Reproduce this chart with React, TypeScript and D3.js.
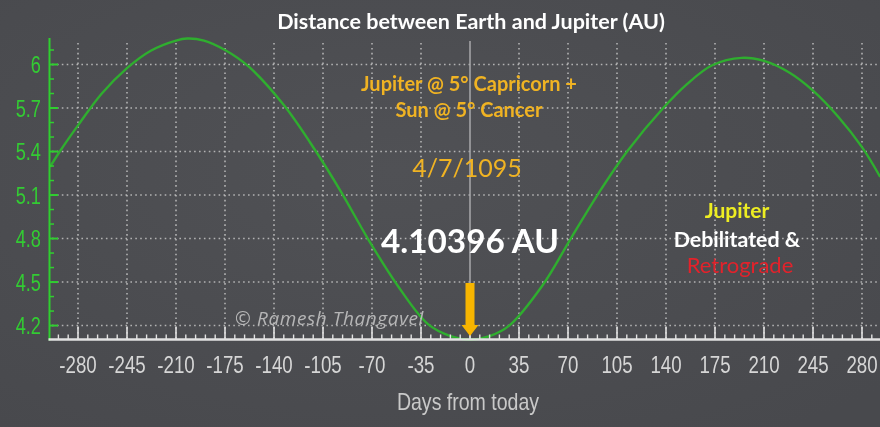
import React from 'react';
import * as d3 from 'd3';

// ---- data ----
const days = [-300, -293, -280, -263, -245, -228, -210, -202, -190, -175, -158, -133, -110, -92, -73, -52, -30, -14, 0, 14, 28, 52, 72, 91, 113, 138, 155, 173, 194, 210, 228, 245, 263, 280, 293];
const distanceAU = [5.294, 5.4, 5.58, 5.8, 5.975, 6.095, 6.165, 6.179, 6.165, 6.1, 5.985, 5.72, 5.4, 5.12, 4.8, 4.48, 4.21, 4.128, 4.104, 4.128, 4.2, 4.48, 4.8, 5.1, 5.41, 5.7, 5.865, 5.995, 6.046, 6.025, 5.945, 5.82, 5.64, 5.43, 5.225];
const xTickValues = [-280, -245, -210, -175, -140, -105, -70, -35, 0, 35, 70, 105, 140, 175, 210, 245, 280];
const yTickValues = [4.2, 4.5, 4.8, 5.1, 5.4, 5.7, 6];
const yTickLabels = ['4.2', '4.5', '4.8', '5.1', '5.4', '5.7', '6'];
const minDistance = 4.10396;

const titleText = 'Distance between Earth and Jupiter (AU)';
const noteLines = ['Jupiter @ 5° Capricorn +', 'Sun @ 5° Cancer'];
const dateText = '4/7/1095';
const valueText = '4.10396 AU';
const sideLines = ['Jupiter', 'Debilitated &', 'Retrograde'];
const watermarkText = '© Ramesh Thangavel';
const xAxisTitle = 'Days from today';

const W = 880;
const H = 427;

export default function App() {
  const x = d3.scaleLinear().domain([-300, 300]).range([50, 890]);
  const y = d3.scaleLinear().domain([minDistance, 6]).range([339.5, 64.5]);

  const line = d3
    .line<number>()
    .x((_, i) => x(days[i]))
    .y((d) => y(d))
    .curve(d3.curveCatmullRom.alpha(0.5));

  const minorY = d3.range(42, 62).map((v) => v / 10).filter((v) => Math.abs((v * 10) % 3) > 0.01);
  const minorX = d3.range(-294, 295, 7).filter((v) => v % 35 !== 0);

  const sans = "'Liberation Sans', Arial, sans-serif";
  const cal = "Lato, 'Open Sans', sans-serif";
  const axisBottom = y(minDistance);
  const x0 = x(0);

  return (
    <svg width={W} height={H} style={{ position: 'fixed', left: 0, top: 0, display: 'block' }}>
      <defs>
        <radialGradient id="bg" cx="45%" cy="40%" r="75%">
          <stop offset="0%" stopColor="#505155" />
          <stop offset="100%" stopColor="#48494d" />
        </radialGradient>
      </defs>
      <rect x={0} y={0} width={W} height={H} fill="url(#bg)" />

      {/* horizontal grid */}
      {yTickValues.map((v) => (
        <line key={'hg' + v} x1={52} x2={W} y1={y(v)} y2={y(v)} stroke="#c4c4c4" strokeWidth={1.6} strokeDasharray="1.6 3.3" opacity={0.85} />
      ))}
      {/* vertical grid */}
      {xTickValues.filter((v) => v !== 0).map((v) => (
        <line key={'vg' + v} x1={x(v)} x2={x(v)} y1={43} y2={axisBottom} stroke="#c4c4c4" strokeWidth={1.6} strokeDasharray="1.6 3.3" opacity={0.85} />
      ))}
      {/* zero line */}
      <line x1={x0} x2={x0} y1={41} y2={axisBottom} stroke="#a9a9ab" strokeWidth={1.5} />

      {/* curve */}
      <path d={line(distanceAU) || ''} fill="none" stroke="#2fae2f" strokeWidth={2.4} />

      {/* y axis */}
      <line x1={49.5} x2={49.5} y1={38} y2={axisBottom + 1} stroke="#2fcf2f" strokeWidth={2} />
      {yTickValues.map((v) => (
        <line key={'yt' + v} x1={49.5} x2={58} y1={y(v)} y2={y(v)} stroke="#2fcf2f" strokeWidth={2} />
      ))}
      {minorY.map((v) => (
        <line key={'ym' + v} x1={49.5} x2={54} y1={y(v)} y2={y(v)} stroke="#2fcf2f" strokeWidth={1.5} />
      ))}
      {yTickValues.map((v, i) => (
        <g key={'yl' + v} transform={`translate(41,${y(v)}) scale(0.76,1)`}>
          <text x={0} y={0} dy="0.36em" textAnchor="end" fill="#33cc33" fontFamily={sans} fontSize={24}>
            {yTickLabels[i]}
          </text>
        </g>
      ))}

      {/* x axis */}
      <line x1={48.5} x2={W} y1={axisBottom} y2={axisBottom} stroke="#e2e2e2" strokeWidth={2.5} />
      {xTickValues.map((v) => (
        <line key={'xt' + v} x1={x(v)} x2={x(v)} y1={axisBottom} y2={axisBottom - 13} stroke="#e2e2e2" strokeWidth={1.6} />
      ))}
      {minorX.map((v) => (
        <line key={'xm' + v} x1={x(v)} x2={x(v)} y1={axisBottom} y2={axisBottom - 5} stroke="#e2e2e2" strokeWidth={1.4} />
      ))}
      {xTickValues.map((v) => (
        <g key={'xl' + v} transform={`translate(${x(v)},372.5) scale(0.78,1)`}>
          <text x={0} y={0} textAnchor="middle" fill="#d6d6d6" fontFamily={sans} fontSize={24}>
            {v < 0 ? '-' + Math.abs(v) : String(v)}
          </text>
        </g>
      ))}
      <g transform={`translate(${x0 - 2},410) scale(0.85,1)`}>
        <text x={0} y={0} textAnchor="middle" fill="#c9c9c9" fontFamily={sans} fontSize={23}>
          {xAxisTitle}
        </text>
      </g>

      {/* title */}
      <text x={471} y={29} textAnchor="middle" fill="#ffffff" fontFamily={cal} fontWeight="bold" fontSize={21.5}>
        {titleText}
      </text>

      {/* annotations */}
      {noteLines.map((t, i) => (
        <text key={'n' + i} x={469} y={91 + i * 26} textAnchor="middle" fill="#f0b323" fontFamily={cal} fontWeight="bold" fontSize={20}>
          {t}
        </text>
      ))}
      <text x={467} y={177} textAnchor="middle" fill="#f0b323" fontFamily={cal} fontSize={25}>
        {dateText}
      </text>
      <text x={470} y={253} textAnchor="middle" fill="#ffffff" fontFamily={cal} fontWeight="bold" fontSize={33.3}>
        {valueText}
      </text>

      {/* arrow */}
      <rect x={x0 - 4.5} y={283} width={9} height={43} fill="#f7b500" />
      <path d={`M${x0 - 8.5},${325} L${x0 + 8.5},${325} L${x0},${336} Z`} fill="#f7b500" />

      {/* side text */}
      <text x={737} y={218} textAnchor="middle" fill="#eded22" fontFamily={cal} fontWeight="bold" fontSize={21}>
        {sideLines[0]}
      </text>
      <text x={737} y={247} textAnchor="middle" fill="#ffffff" fontFamily={cal} fontWeight="bold" fontSize={21.4}>
        {sideLines[1]}
      </text>
      <text x={740} y={273} textAnchor="middle" fill="#e3222b" fontFamily={cal} fontSize={22}>
        {sideLines[2]}
      </text>

      {/* watermark */}
      <text x={235} y={325} fill="#c8c8c8" fillOpacity={0.85} fontFamily="'Open Sans', sans-serif" fontStyle="italic" fontSize={19} letterSpacing={0.6}>
        {watermarkText}
      </text>
    </svg>
  );
}
